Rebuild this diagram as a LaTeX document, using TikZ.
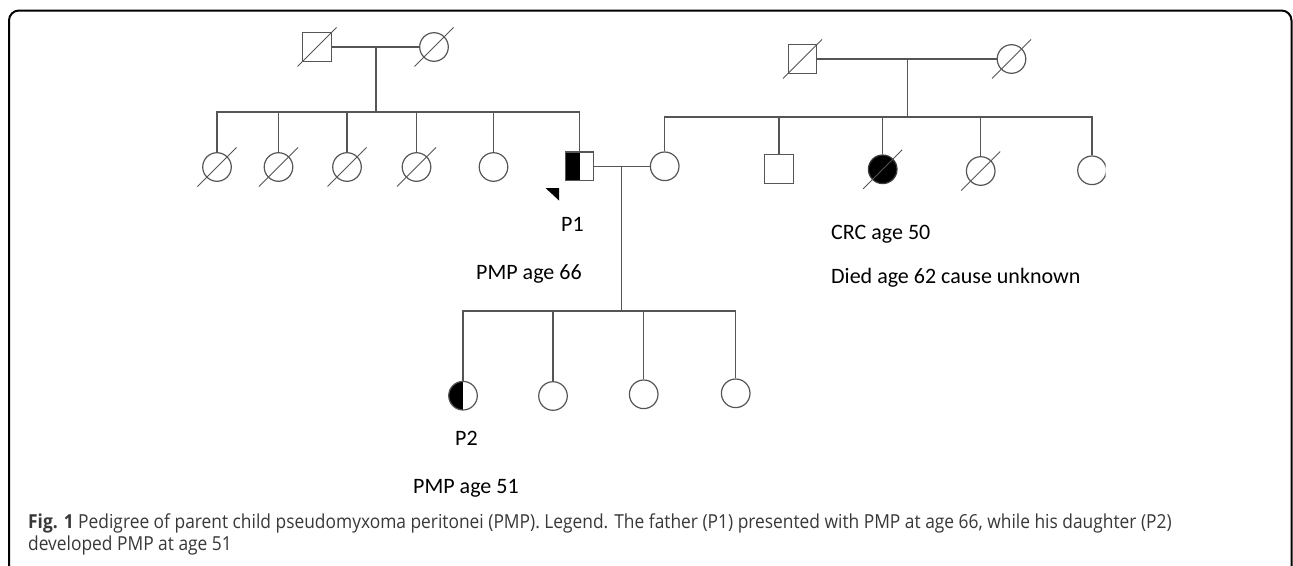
\documentclass[tikz,border=0pt]{standalone}
\usepackage{fontspec}
\setmainfont{Carlito}
\newfontfamily\capfont[FakeStretch=0.9]{Open Sans}
\definecolor{pedline}{HTML}{555555}
\definecolor{captext}{HTML}{383838}
\begin{document}
\begin{tikzpicture}[x=1pt,y=-1pt,
  conn/.style={draw=pedline,line width=1.3pt},
  male/.style={rectangle,draw=pedline,line width=1.2pt,minimum size=28.5pt,inner sep=0pt,fill=white},
  female/.style={circle,draw=pedline,line width=1.2pt,minimum size=28.6pt,inner sep=0pt,fill=white},
  slash/.style={draw=pedline,line width=0.9pt},
  lbl/.style={anchor=base west,inner sep=0pt,font=\fontsize{22}{24}\selectfont},
  captionstyle/.style={anchor=base west,inner sep=0pt,text=captext,font=\capfont\fontsize{19.3}{22}\selectfont},
  halfleft/.style={path picture={\fill[black] (path picture bounding box.north west) rectangle (path picture bounding box.south);}}
]
\useasboundingbox (0,0) rectangle (1293,565);
% frame
\draw[line width=2pt,rounded corners=10pt] (9,620) -- (9,10.5) -- (1291.5,10.5) -- (1291.5,620);

% left grandparents
\node[male] (lgf) at (317,47) {};
\node[female] (lgm) at (434,47) {};
\coordinate (lj) at (376,47);
\coordinate (lsib) at (376,112);
% left children
\node[female] (lc1) at (217,167) {};
\node[female] (lc2) at (278.5,167) {};
\node[female] (lc3) at (347,167) {};
\node[female] (lc4) at (416.5,167) {};
\node[female] (lc5) at (493.5,167) {};
\node[male,halfleft] (p1) at (579.5,166.3) {};

% right grandparents
\node[male] (rgf) at (802.5,59) {};
\node[female] (rgm) at (1011.5,59) {};
\coordinate (rj) at (907.3,59);
\coordinate (rsib) at (907.3,117);
% right children
\node[female] (wife) at (664.7,166.3) {};
\node[male] (rc2) at (779,169) {};
\node[female,fill=black,draw=pedline!70!black] (rc3) at (882.7,169.3) {};
\node[female] (rc4) at (980.7,171) {};
\begin{scope}
\clip (1060,140) rectangle (1105.5,200);
\node[female] (rc5) at (1092,170.3) {};
\end{scope}

% third generation
\coordinate (cj) at (621.7,166.3);
\coordinate (csib) at (621.7,311);
\node[female,halfleft] (k1) at (463,395.7) {};
\node[female] (k2) at (553,396) {};
\node[female] (k3) at (643.7,394.3) {};
\node[female] (k4) at (735.7,393.3) {};

% connectors left family
\draw[conn] (lgf) -- (lgm);
\draw[conn] (lj) -- (lsib);
\draw[conn] (lc1.north) |- (lsib) -| (p1.north);
\draw[conn] (lc2.north) -- (lc2.north |- lsib);
\draw[conn] (lc3.north) -- (lc3.north |- lsib);
\draw[conn] (lc4.north) -- (lc4.north |- lsib);
\draw[conn] (lc5.north) -- (lc5.north |- lsib);

% connectors right family
\draw[conn] (rgf) -- (rgm);
\draw[conn] (rj) -- (rsib);
\draw[conn] (wife.north) |- (rsib) -| (rc5.north);
\draw[conn] (rc2.north) -- (rc2.north |- rsib);
\draw[conn] (rc3.north) -- (rc3.north |- rsib);
\draw[conn] (rc4.north) -- (rc4.north |- rsib);

% couple and children
\draw[conn] (p1) -- (wife);
\draw[conn] (cj) -- (csib);
\draw[conn] (k1.north) |- (csib) -| (k4.north);
\draw[conn] (k2.north) -- (k2.north |- csib);
\draw[conn] (k3.north) -- (k3.north |- csib);

% deceased slashes
\foreach \n in {lgf,lgm,lc1,lc2,lc3,lc4,rgf,rgm,rc3,rc4}
  \draw[slash] (\n.center) ++(-19.5,19.5) -- ++(39,-39);

% proband arrow
\fill[black] (545.5,188) -- (559,188) -- (559,200.5) -- cycle;

% labels
\node[lbl] (tp1) at (561,231) {P1};
\node[lbl] (tpmp66) at (476,279) {PMP age 66};
\node[lbl] (tcrc) at (831,239) {CRC age 50};
\node[lbl] (tdied) at (831,283) {Died age 62 cause unknown};
\node[lbl] (tp2) at (455,445) {P2};
\node[lbl] (tpmp51) at (413,493.5) {PMP age 51};

% caption
\node[captionstyle] (cap1) at (28,528.5) {\textbf{Fig. 1} Pedigree of parent child pseudomyxoma peritonei (PMP). Legend. The father (P1) presented with PMP at age 66, while his daughter (P2)};
\node[captionstyle] (cap2) at (28,550) {developed PMP at age 51};
\end{tikzpicture}
\end{document}
